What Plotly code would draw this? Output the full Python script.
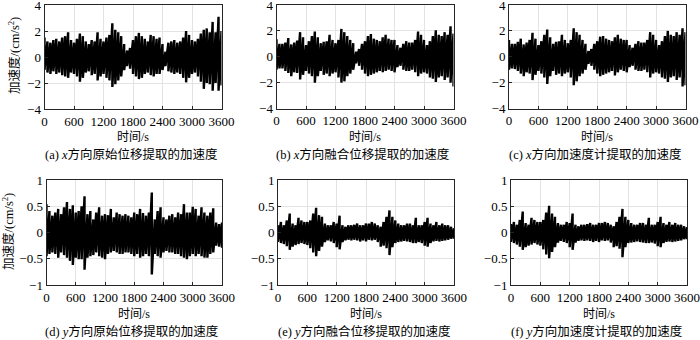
import plotly.graph_objects as go

# ---------------- data (envelope peaks, every 60 s) ----------------
time_s = list(range(0, 3601, 60))  # sample times, s

x_raw_upper = [1.5,1.2,1.1,1.3,1.4,1.2,1.5,1.6,1.9,1.3,
               1.1,1.4,1.8,1.6,1.2,1.0,1.3,1.2,1.9,1.4,
               1.2,1.5,1.7,2.6,2.1,1.9,1.6,1.0,0.5,0.7,
               1.3,1.6,1.85,1.6,1.4,1.2,1.7,1.6,1.4,1.5,
               1.0,0.4,1.1,1.2,1.3,1.1,1.2,1.5,2.0,1.7,
               1.3,1.2,1.4,1.8,2.1,2.2,1.9,2.7,1.9,3.1,
               2.0]
x_raw_lower = [-1.0,-1.2,-1.3,-1.1,-1.3,-1.2,-1.4,-1.5,-1.6,-1.2,
               -1.3,-1.5,-1.9,-1.6,-1.2,-1.1,-1.4,-1.3,-1.8,-1.5,
               -1.3,-1.6,-1.8,-2.3,-2.1,-1.8,-1.5,-1.0,-0.7,-0.9,
               -1.3,-1.5,-1.7,-1.6,-1.3,-1.2,-1.4,-1.5,-1.3,-1.3,
               -1.0,-0.7,-1.1,-1.2,-1.3,-1.2,-1.3,-1.6,-1.95,-1.6,
               -1.3,-1.2,-1.5,-1.9,-2.45,-2.0,-2.1,-2.6,-2.0,-2.6,
               -2.2]

x_fused_upper = [1.35,1.0,1.0,1.1,1.45,0.95,1.1,1.25,1.9,1.5,
                 0.9,1.2,1.6,1.95,1.5,1.05,1.15,1.2,1.7,1.3,
                 1.05,1.3,2.15,1.9,1.6,1.3,1.05,0.4,0.6,1.0,
                 1.2,1.6,1.75,1.4,1.3,1.2,1.5,1.7,1.4,1.3,
                 1.3,0.9,0.7,1.0,1.2,1.1,1.1,1.3,1.95,1.7,
                 1.3,0.9,1.2,1.6,2.05,1.7,1.6,1.9,1.7,2.35,
                 1.8]
x_fused_lower = [-1.0,-0.9,-0.9,-1.1,-1.25,-1.5,-1.2,-1.25,-1.75,-1.4,
                 -1.1,-1.3,-1.5,-2.0,-1.5,-1.1,-1.4,-1.3,-1.5,-1.3,
                 -1.2,-1.6,-2.0,-1.9,-1.5,-1.3,-1.0,-0.5,-0.7,-1.0,
                 -1.3,-1.5,-1.4,-1.3,-1.2,-1.1,-1.2,-1.1,-1.0,-1.1,
                 -1.2,-0.8,-0.7,-1.0,-1.1,-1.1,-1.0,-1.2,-1.5,-1.3,
                 -1.2,-1.3,-1.6,-1.7,-1.95,-1.6,-1.5,-1.8,-1.6,-2.0,
                 -2.3]

x_accel_upper = [1.3,1.0,1.0,1.15,1.4,0.95,1.1,1.3,1.85,1.4,
                 0.9,1.2,1.7,2.1,1.5,1.0,1.15,1.2,1.7,1.3,
                 1.05,1.3,2.2,1.9,1.7,1.3,1.0,0.45,0.6,1.0,
                 1.2,1.55,1.6,1.4,1.3,1.2,1.5,1.7,1.4,1.3,
                 1.3,0.9,0.7,1.0,1.2,1.1,1.1,1.3,1.9,1.7,
                 1.3,0.9,1.2,1.6,2.0,1.7,1.6,1.9,1.7,2.2,
                 1.9]
x_accel_lower = [-1.0,-0.9,-0.95,-1.1,-1.3,-1.5,-1.2,-1.3,-1.8,-1.4,
                 -1.1,-1.3,-1.6,-2.1,-1.5,-1.1,-1.4,-1.3,-1.5,-1.3,
                 -1.2,-1.6,-2.2,-1.9,-1.5,-1.3,-1.0,-0.55,-0.7,-1.0,
                 -1.3,-1.5,-1.4,-1.3,-1.2,-1.1,-1.45,-1.2,-1.0,-1.1,
                 -1.2,-0.8,-0.7,-1.0,-1.1,-1.1,-1.0,-1.2,-1.6,-1.3,
                 -1.2,-1.3,-1.6,-1.7,-1.95,-1.6,-1.5,-1.8,-1.6,-2.3,
                 -2.2]

y_raw_upper = [0.54,0.41,0.32,0.38,0.45,0.35,0.48,0.58,0.45,0.52,
               0.38,0.41,0.5,0.69,0.35,0.41,0.25,0.38,0.48,0.32,
               0.35,0.33,0.45,0.29,0.38,0.35,0.32,0.35,0.32,0.29,
               0.38,0.35,0.45,0.37,0.32,0.38,0.76,0.25,0.41,0.48,
               0.29,0.25,0.32,0.35,0.29,0.38,0.35,0.54,0.38,0.38,
               0.49,0.45,0.32,0.48,0.38,0.32,0.38,0.46,0.19,0.16,
               0.19]
y_raw_lower = [-0.45,-0.41,-0.38,-0.41,-0.48,-0.38,-0.43,-0.48,-0.54,-0.62,
               -0.48,-0.51,-0.51,-0.71,-0.48,-0.45,-0.43,-0.38,-0.45,-0.48,
               -0.51,-0.41,-0.38,-0.35,-0.38,-0.41,-0.41,-0.38,-0.38,-0.41,
               -0.45,-0.41,-0.48,-0.45,-0.41,-0.45,-0.8,-0.41,-0.45,-0.48,
               -0.38,-0.35,-0.38,-0.38,-0.41,-0.41,-0.45,-0.48,-0.51,-0.45,
               -0.41,-0.45,-0.41,-0.45,-0.48,-0.48,-0.41,-0.38,-0.25,-0.27,
               -0.29]

y_fused_upper = [0.14,0.2,0.14,0.23,0.36,0.17,0.14,0.28,0.23,0.2,
                 0.2,0.23,0.36,0.47,0.33,0.3,0.17,0.14,0.14,0.2,
                 0.17,0.32,0.14,0.11,0.14,0.14,0.15,0.17,0.14,0.14,
                 0.17,0.17,0.2,0.17,0.14,0.11,0.2,0.3,0.42,0.3,
                 0.23,0.17,0.14,0.14,0.17,0.17,0.14,0.28,0.14,0.14,
                 0.2,0.28,0.17,0.14,0.2,0.14,0.17,0.14,0.14,0.11,
                 0.08]
y_fused_lower = [-0.18,-0.2,-0.22,-0.26,-0.33,-0.27,-0.24,-0.22,-0.2,-0.22,
                 -0.24,-0.3,-0.38,-0.45,-0.35,-0.27,-0.18,-0.15,-0.17,-0.2,
                 -0.28,-0.32,-0.18,-0.15,-0.14,-0.15,-0.14,-0.15,-0.17,-0.15,
                 -0.17,-0.14,-0.15,-0.14,-0.18,-0.27,-0.25,-0.3,-0.43,-0.28,
                 -0.2,-0.18,-0.17,-0.16,-0.17,-0.18,-0.2,-0.2,-0.18,-0.2,
                 -0.25,-0.27,-0.2,-0.17,-0.16,-0.17,-0.16,-0.15,-0.14,-0.12,
                 -0.12]

y_accel_upper = [0.16,0.2,0.15,0.24,0.4,0.18,0.15,0.28,0.24,0.2,
                 0.2,0.24,0.38,0.51,0.36,0.3,0.18,0.15,0.15,0.2,
                 0.18,0.36,0.15,0.12,0.15,0.15,0.16,0.18,0.15,0.15,
                 0.18,0.18,0.2,0.18,0.15,0.12,0.2,0.3,0.45,0.3,
                 0.24,0.18,0.15,0.15,0.18,0.18,0.15,0.28,0.15,0.15,
                 0.2,0.3,0.18,0.15,0.2,0.15,0.18,0.15,0.15,0.12,
                 0.1]
y_accel_lower = [-0.18,-0.2,-0.23,-0.27,-0.33,-0.28,-0.25,-0.23,-0.2,-0.23,
                 -0.25,-0.32,-0.42,-0.49,-0.37,-0.28,-0.19,-0.16,-0.18,-0.2,
                 -0.28,-0.33,-0.19,-0.16,-0.15,-0.16,-0.15,-0.16,-0.18,-0.16,
                 -0.18,-0.15,-0.16,-0.15,-0.19,-0.28,-0.26,-0.31,-0.47,-0.28,
                 -0.2,-0.19,-0.18,-0.17,-0.18,-0.19,-0.2,-0.2,-0.19,-0.21,
                 -0.26,-0.28,-0.2,-0.18,-0.17,-0.18,-0.17,-0.16,-0.15,-0.13,
                 -0.13]

x_ticks = [0, 600, 1200, 1800, 2400, 3000, 3600]
y_ticks_x = [-4, -2, 0, 2, 4]
y_ticks_y = [-1, -0.5, 0, 0.5, 1]

captions = ["(a) <i>x</i>方向原始位移提取的加速度", "(b) <i>x</i>方向融合位移提取的加速度",
            "(c) <i>x</i>方向加速度计提取的加速度", "(d) <i>y</i>方向原始位移提取的加速度",
            "(e) <i>y</i>方向融合位移提取的加速度", "(f) <i>y</i>方向加速度计提取的加速度"]
x_title = "时间/s"
y_title = "加速度/(cm/s<sup>2</sup>)"

# ---------------- layout ----------------
W, H = 700, 340
FONT = "Liberation Serif, Times New Roman, Noto Sans CJK SC, serif"
series = [(x_raw_upper, x_raw_lower), (x_fused_upper, x_fused_lower), (x_accel_upper, x_accel_lower),
          (y_raw_upper, y_raw_lower), (y_fused_upper, y_fused_lower), (y_accel_upper, y_accel_lower)]
# plot-area boxes in pixels: (left, right, top, bottom)
boxes = [(44.5, 221.5, 5, 109), (276.5, 453.5, 5, 108.5), (509, 685.5, 5, 108.5),
         (46.5, 222, 180, 285), (278, 454, 180, 285), (511, 687, 180, 285)]

fig = go.Figure()
layout = {}
annotations = []
for i, ((up, lo), (l, r, t, b)) in enumerate(zip(series, boxes)):
    n = "" if i == 0 else str(i + 1)
    # oscillating trace: each sample swings from its positive to its negative peak
    xs, ys = [], []
    for tt, u, v in zip(time_s, up, lo):
        xs += [tt, tt]
        ys += [u, v]
    fig.add_trace(go.Scatter(x=xs, y=ys, mode="lines", line=dict(color="black", width=2.4),
                             xaxis="x" + n, yaxis="y" + n, showlegend=False, hoverinfo="skip"))
    common = dict(showline=True, mirror=True, linecolor="#262626", linewidth=1,
                  showgrid=True, gridcolor="#e3e3e3", gridwidth=1, zeroline=False,
                  ticks="inside", ticklen=3, tickcolor="#262626",
                  ticklabeloverflow="allow",
                  tickfont=dict(family=FONT, size=13, color="black"))
    layout["xaxis" + n] = dict(common, domain=[l / W, r / W], anchor="y" + n,
                               range=[0, 3600], tickvals=x_ticks)
    yt = y_ticks_x if i < 3 else y_ticks_y
    layout["yaxis" + n] = dict(common, domain=[1 - b / H, 1 - t / H], anchor="x" + n,
                               range=[yt[0], yt[-1]], tickvals=yt)
    cx = (l + r) / 2
    row2 = i >= 3
    annotations.append(dict(text=x_title, x=cx / W, y=1 - (314 if row2 else 137) / H,
                            xref="paper", yref="paper", showarrow=False,
                            xanchor="center", yanchor="middle",
                            font=dict(family=FONT, size=12, color="black")))
    annotations.append(dict(text=captions[i], x=(cx - 2) / W, y=1 - (331.5 if row2 else 155) / H,
                            xref="paper", yref="paper", showarrow=False,
                            xanchor="center", yanchor="middle",
                            font=dict(family=FONT, size=12.5, color="black")))

annotations.append(dict(text=y_title, x=14 / W, y=1 - 56 / H, xref="paper", yref="paper",
                        xanchor="center", yanchor="middle",
                        textangle=-90, showarrow=False, font=dict(family=FONT, size=12.5, color="black")))
annotations.append(dict(text=y_title, x=8 / W, y=1 - 232 / H, xref="paper", yref="paper",
                        xanchor="center", yanchor="middle",
                        textangle=-90, showarrow=False, font=dict(family=FONT, size=12.5, color="black")))

fig.update_layout(width=W, height=H, margin=dict(l=0, r=0, t=0, b=0, autoexpand=False),
                  paper_bgcolor="white", plot_bgcolor="white",
                  annotations=annotations, **layout)
fig.write_html("out.html", config={"displayModeBar": False},
               post_script="document.body.style.margin='0';document.body.style.padding='0';")
